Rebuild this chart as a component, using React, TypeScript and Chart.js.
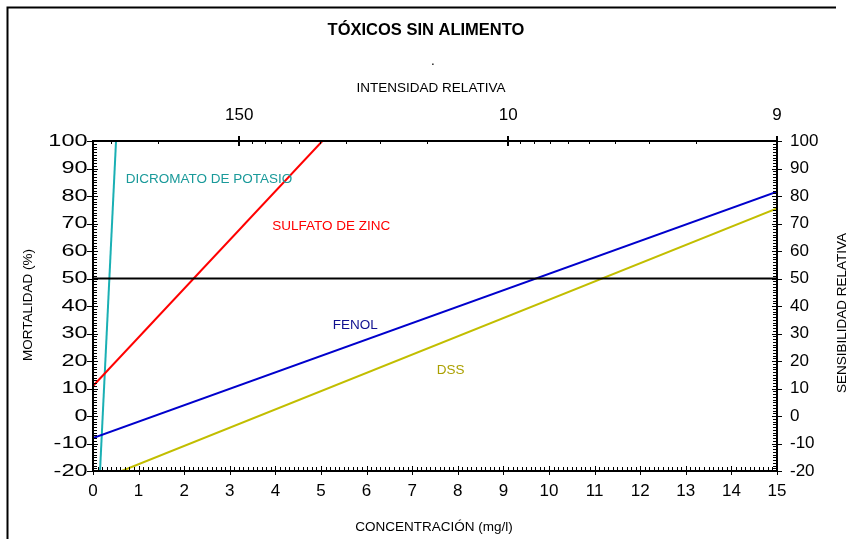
import React, { useEffect, useRef } from 'react';
import { Chart, registerables } from 'chart.js';

Chart.register(...registerables);

// ---- data ----
const xTickValues = [0, 1, 2, 3, 4, 5, 6, 7, 8, 9, 10, 11, 12, 13, 14, 15];
const yTickValues = [-20, -10, 0, 10, 20, 30, 40, 50, 60, 70, 80, 90, 100];
const topTickValues = [100, 10, 1];
const topTickLabels = ['150', '10', '9'];
const topMinorValues = [300, 200, 90, 80, 70, 60, 50, 40, 30, 20, 9, 8, 7, 6, 5, 4, 3, 2];

const dicromatoX = [0.154, 0.505];
const dicromatoY = [-20, 100];
const sulfatoX = [0, 5.03];
const sulfatoY = [10.9, 100];
const fenolX = [0, 15];
const fenolY = [-8, 81.6];
const dssX = [0.63, 15];
const dssY = [-20, 75.5];
const refX = [0, 15];
const refY = [50, 50];

const seriesNames = ['DICROMATO DE POTASIO', 'SULFATO DE ZINC', 'FENOL', 'DSS'];

// label anchors (data coordinates) for series names
const labelAnchors = [
  { text: seriesNames[0], x: 0.72, y: 86.2, color: '#1A9A9A' },
  { text: seriesNames[1], x: 3.93, y: 69.1, color: '#FF0000' },
  { text: seriesNames[2], x: 5.26, y: 33.1, color: '#101090' },
  { text: seriesNames[3], x: 7.54, y: 16.7, color: '#ABA000' },
];

const FONT = '"Liberation Sans", Arial, sans-serif';

const pts = (xs: number[], ys: number[]) => xs.map((x, i) => ({ x, y: ys[i] }));

const decorPlugin = {
  id: 'decor',
  afterDraw(chart: any) {
    const ctx = chart.ctx as CanvasRenderingContext2D;
    const { left, right, top, bottom } = chart.chartArea;
    const xs = chart.scales.x;
    const ys = chart.scales.y;
    const xt = chart.scales.xTop;
    ctx.save();

    // outer frame
    ctx.strokeStyle = '#000';
    ctx.lineWidth = 2;
    ctx.beginPath();
    ctx.moveTo(7.5, 545);
    ctx.lineTo(7.5, 7.5);
    ctx.lineTo(836, 7.5);
    ctx.stroke();

    // plot box
    ctx.lineWidth = 2;
    ctx.strokeRect(left, top, right - left, bottom - top);

    ctx.lineWidth = 1;
    ctx.beginPath();
    // left / right ticks
    for (let v = -20; v <= 100; v += 1) {
      const y = Math.round(ys.getPixelForValue(v)) + 0.5;
      if (v % 10 === 0) {
        ctx.moveTo(left - 6, y); ctx.lineTo(left + 5, y);
        ctx.moveTo(right - 5, y); ctx.lineTo(right + 5, y);
      } else {
        ctx.moveTo(left, y); ctx.lineTo(left + 4, y);
        ctx.moveTo(right - 4, y); ctx.lineTo(right, y);
      }
    }
    // bottom ticks
    for (let i = 0; i <= 150; i++) {
      const x = Math.round(xs.getPixelForValue(i / 10)) + 0.5;
      if (i % 10 === 0) {
        ctx.moveTo(x, bottom - 5); ctx.lineTo(x, bottom + 4);
      } else {
        ctx.moveTo(x, bottom - 4); ctx.lineTo(x, bottom);
      }
    }
    // top ticks (log)
    topMinorValues.forEach((v) => {
      const x = Math.round(xt.getPixelForValue(v)) + 0.5;
      ctx.moveTo(x, top - 1); ctx.lineTo(x, top + 3);
    });
    ctx.stroke();
    ctx.lineWidth = 2;
    ctx.beginPath();
    topTickValues.forEach((v) => {
      const x = Math.round(xt.getPixelForValue(v));
      ctx.moveTo(x, top - 5); ctx.lineTo(x, top + 5);
    });
    ctx.stroke();

    // left axis tick labels (wide lettering as in the original)
    ctx.fillStyle = '#000';
    ctx.font = `17px ${FONT}`;
    ctx.textAlign = 'right';
    ctx.textBaseline = 'middle';
    yTickValues.forEach((v) => {
      ctx.save();
      ctx.translate(left - 5.5, ys.getPixelForValue(v));
      ctx.scale(1.38, 1);
      ctx.fillText(String(v), 0, 0);
      ctx.restore();
    });

    // series labels
    ctx.font = `13.5px ${FONT}`;
    ctx.textBaseline = 'middle';
    ctx.textAlign = 'left';
    labelAnchors.forEach((a) => {
      ctx.fillStyle = a.color;
      ctx.fillText(a.text, xs.getPixelForValue(a.x), ys.getPixelForValue(a.y));
    });

    // titles
    ctx.fillStyle = '#000';
    ctx.textAlign = 'center';
    ctx.font = `bold 16.5px ${FONT}`;
    ctx.fillText('TÓXICOS SIN ALIMENTO', 426, 30);
    ctx.font = `13.5px ${FONT}`;
    ctx.fillText('.', 433, 61);
    ctx.fillText('INTENSIDAD RELATIVA', 431, 88);
    ctx.fillText('CONCENTRACIÓN (mg/l)', 434, 527);

    ctx.save();
    ctx.translate(28, 305);
    ctx.rotate(-Math.PI / 2);
    ctx.fillText('MORTALIDAD (%)', 0, 0);
    ctx.restore();

    ctx.save();
    ctx.translate(842, 313);
    ctx.rotate(-Math.PI / 2);
    ctx.fillText('SENSIBILIDAD RELATIVA', 0, 0);
    ctx.restore();

    ctx.restore();
  },
};

export default function App() {
  const ref = useRef<HTMLCanvasElement | null>(null);

  useEffect(() => {
    if (!ref.current) return;
    const tickFont = { family: FONT, size: 17 };
    const lineDs = (label: string, xsArr: number[], ysArr: number[], color: string) => ({
      label,
      data: pts(xsArr, ysArr),
      borderColor: color,
      backgroundColor: color,
      borderWidth: 2,
      pointRadius: 0,
      fill: false,
      tension: 0,
      xAxisID: 'x',
      yAxisID: 'y',
    });
    const chart = new Chart(ref.current, {
      type: 'line',
      data: {
        datasets: [
          lineDs('ref50', refX, refY, '#000000'),
          lineDs(seriesNames[3], dssX, dssY, '#C2BE00'),
          lineDs(seriesNames[2], fenolX, fenolY, '#0000CC'),
          lineDs(seriesNames[1], sulfatoX, sulfatoY, '#FF0000'),
          lineDs(seriesNames[0], dicromatoX, dicromatoY, '#1AB0B4'),
        ],
      },
      options: {
        animation: false,
        responsive: false,
        layout: { padding: 0 },
        plugins: { legend: { display: false }, title: { display: false }, tooltip: { enabled: false } },
        scales: {
          x: {
            type: 'linear',
            position: 'bottom',
            min: 0,
            max: 15,
            afterBuildTicks: (s: any) => { s.ticks = xTickValues.map((v) => ({ value: v })); },
            afterFit: (s: any) => { s.height = 68; },
            ticks: { font: tickFont, color: '#000', padding: 10, autoSkip: false, maxRotation: 0 },
            grid: { display: false, drawTicks: false },
            border: { display: false },
          },
          xTop: {
            type: 'logarithmic',
            position: 'top',
            reverse: true,
            min: 1,
            max: 350,
            afterBuildTicks: (s: any) => { s.ticks = topTickValues.map((v) => ({ value: v })); },
            afterFit: (s: any) => { s.height = 141; },
            ticks: {
              font: tickFont,
              color: '#000',
              padding: 15,
              autoSkip: false,
              maxRotation: 0,
              callback: (v: any) => {
                const i = topTickValues.indexOf(Number(v));
                return i >= 0 ? topTickLabels[i] : '';
              },
            },
            grid: { display: false, drawTicks: false },
            border: { display: false },
          },
          y: {
            type: 'linear',
            position: 'left',
            min: -20,
            max: 100,
            afterBuildTicks: (s: any) => { s.ticks = yTickValues.map((v) => ({ value: v })); },
            afterFit: (s: any) => { s.width = 93; },
            ticks: { display: false },
            grid: { display: false, drawTicks: false },
            border: { display: false },
          },
          y2: {
            type: 'linear',
            position: 'right',
            min: -20,
            max: 100,
            afterBuildTicks: (s: any) => { s.ticks = yTickValues.map((v) => ({ value: v })); },
            afterFit: (s: any) => { s.width = 73; },
            ticks: { font: tickFont, color: '#000', padding: 13, autoSkip: false },
            grid: { display: false, drawTicks: false },
            border: { display: false },
          },
        },
      },
      plugins: [decorPlugin],
    } as any);
    return () => chart.destroy();
  }, []);

  return (
    <div style={{ position: 'fixed', left: 0, top: 0, width: 850, height: 539, background: '#fff' }}>
      <canvas ref={ref} width={850} height={539} style={{ display: 'block' }} />
    </div>
  );
}
